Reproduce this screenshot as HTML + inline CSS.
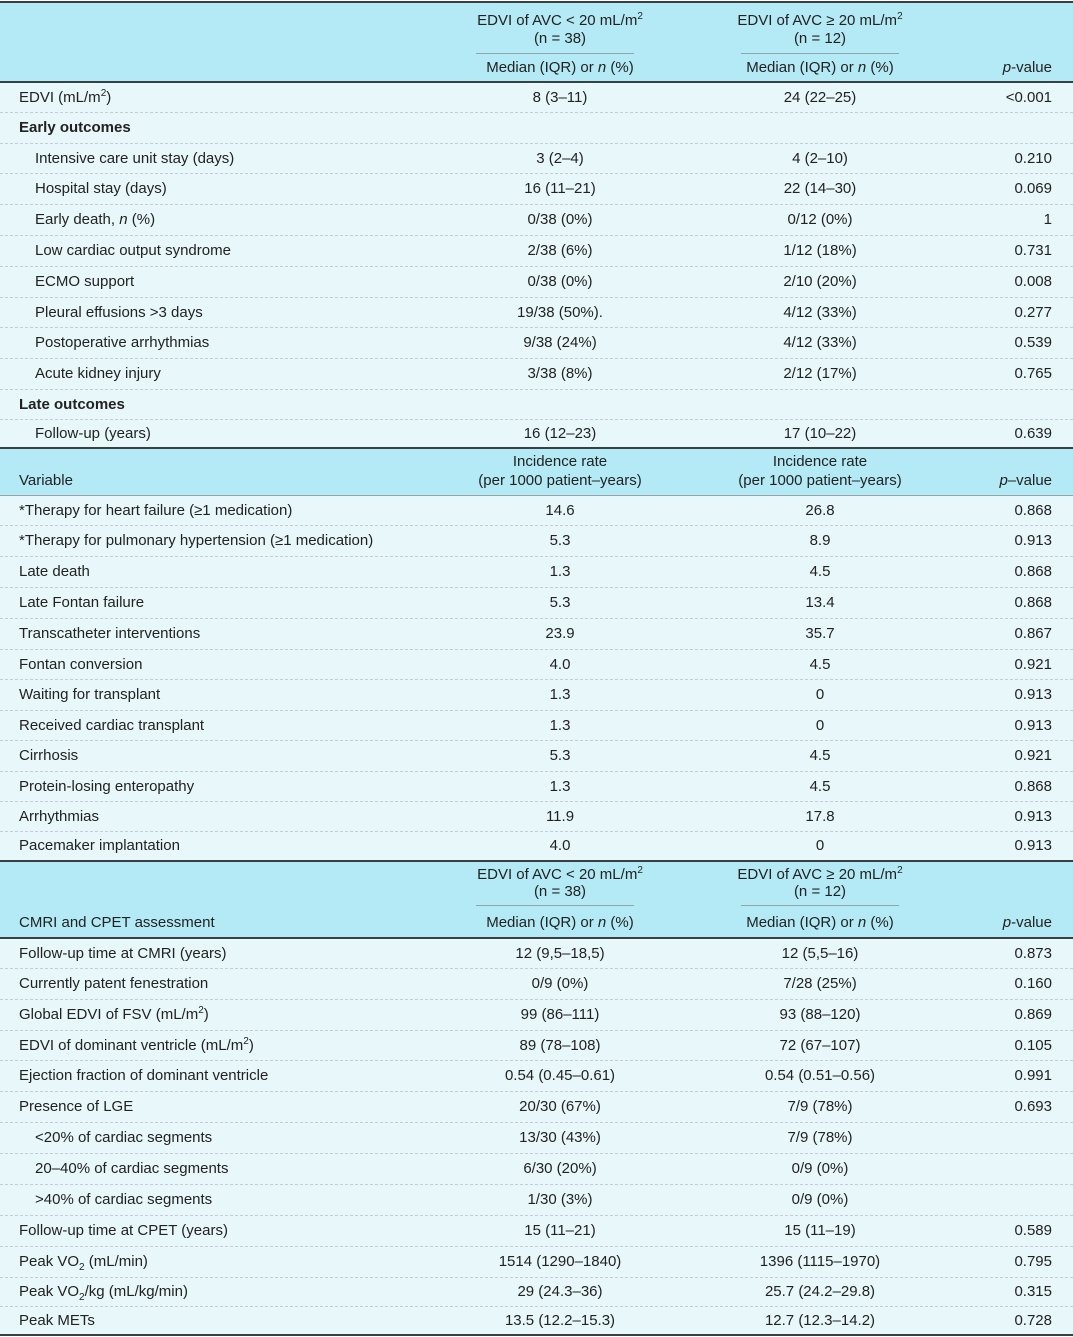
<!DOCTYPE html>
<html><head><meta charset="utf-8">
<style>
html,body{margin:0;padding:0;background:#fff}
body{width:1073px;height:1337px;position:relative;overflow:hidden;font-family:"Liberation Sans","DejaVu Sans",sans-serif;font-size:15px;color:#222}
.hdr{position:absolute;left:0;width:1073px;background:#b4eaf5}
.body{position:absolute;left:0;width:1073px;background:#e8f7fa}
.dark{position:absolute;left:0;width:1073px;height:2px;background:#3a3f42}
.grey{position:absolute;left:0;width:1073px;height:1px;background:#9aa3a6}
.thin{position:absolute;height:1px;background:#8fa5aa}
.t{position:absolute;white-space:nowrap;line-height:16px}
.c1{left:430px;width:260px;text-align:center}
.c2{left:690px;width:260px;text-align:center}
.p{right:21px;text-align:right}
.row{position:absolute;left:0;width:1073px;border-bottom:1px dashed #c4cdd0;box-sizing:border-box}
.row .t{top:50%;margin-top:-8px}
.lab{left:19px}.ind{left:35px}
sup,sub{font-size:10px;line-height:0}
</style></head>
<body>
<div class="dark" style="top:1px"></div>
<div class="hdr" style="top:3px;height:78px">
 <div class="t c1" style="top:10px">EDVI of AVC &lt; 20 mL/m<sup>2</sup></div>
 <div class="t c1" style="top:28px">(n = 38)</div>
 <div class="thin" style="left:476px;width:158px;top:50px"></div>
 <div class="t c1" style="top:57px">Median (IQR) or <i>n</i> (%)</div>
 <div class="t c2" style="top:10px">EDVI of AVC ≥ 20 mL/m<sup>2</sup></div>
 <div class="t c2" style="top:28px">(n = 12)</div>
 <div class="thin" style="left:741px;width:158px;top:50px"></div>
 <div class="t c2" style="top:57px">Median (IQR) or <i>n</i> (%)</div>
 <div class="t p" style="top:57px"><i>p</i>-value</div>
</div>
<div class="dark" style="top:81px"></div>
<div class="body" style="top:83px;height:364px" id="s1"></div>

<div class="dark" style="top:447px"></div>
<div class="hdr" style="top:449px;height:46px">
 <div class="t lab" style="top:24px">Variable</div>
 <div class="t c1" style="top:5px">Incidence rate</div>
 <div class="t c1" style="top:24px">(per 1000 patient–years)</div>
 <div class="t c2" style="top:5px">Incidence rate</div>
 <div class="t c2" style="top:24px">(per 1000 patient–years)</div>
 <div class="t p" style="top:24px"><i>p</i>–value</div>
</div>
<div class="grey" style="top:495px"></div>
<div class="body" style="top:496px;height:365px" id="s2"></div>

<div class="dark" style="top:860px"></div>
<div class="hdr" style="top:862px;height:75px">
 <div class="t c1" style="top:5px">EDVI of AVC &lt; 20 mL/m<sup>2</sup></div>
 <div class="t c1" style="top:22px">(n = 38)</div>
 <div class="thin" style="left:476px;width:158px;top:43px"></div>
 <div class="t c1" style="top:53px">Median (IQR) or <i>n</i> (%)</div>
 <div class="t c2" style="top:5px">EDVI of AVC ≥ 20 mL/m<sup>2</sup></div>
 <div class="t c2" style="top:22px">(n = 12)</div>
 <div class="thin" style="left:741px;width:158px;top:43px"></div>
 <div class="t c2" style="top:53px">Median (IQR) or <i>n</i> (%)</div>
 <div class="t lab" style="top:53px">CMRI and CPET assessment</div>
 <div class="t p" style="top:53px"><i>p</i>-value</div>
</div>
<div class="dark" style="top:937px"></div>
<div class="body" style="top:939px;height:395px" id="s3"></div>
<div class="dark" style="top:1334px"></div>

<script>
// [label, col1, col2, p, indent]
const s1Rows=[
["EDVI (mL/m<sup>2</sup>)","8 (3–11)","24 (22–25)","&lt;0.001",0],
["<b>Early outcomes</b>","","","",0],
["Intensive care unit stay (days)","3 (2–4)","4 (2–10)","0.210",1],
["Hospital stay (days)","16 (11–21)","22 (14–30)","0.069",1],
["Early death, <i>n</i> (%)","0/38 (0%)","0/12 (0%)","1",1],
["Low cardiac output syndrome","2/38 (6%)","1/12 (18%)","0.731",1],
["ECMO support","0/38 (0%)","2/10 (20%)","0.008",1],
["Pleural effusions &gt;3 days","19/38 (50%).","4/12 (33%)","0.277",1],
["Postoperative arrhythmias","9/38 (24%)","4/12 (33%)","0.539",1],
["Acute kidney injury","3/38 (8%)","2/12 (17%)","0.765",1],
["<b>Late outcomes</b>","","","",0],
["Follow-up (years)","16 (12–23)","17 (10–22)","0.639",1]];
const s1Bounds=[83,113,144,174,205,236,267,298,328,359,390,420,447];
const s2Rows=[
["*Therapy for heart failure (≥1 medication)","14.6","26.8","0.868",0],
["*Therapy for pulmonary hypertension (≥1 medication)","5.3","8.9","0.913",0],
["Late death","1.3","4.5","0.868",0],
["Late Fontan failure","5.3","13.4","0.868",0],
["Transcatheter interventions","23.9","35.7","0.867",0],
["Fontan conversion","4.0","4.5","0.921",0],
["Waiting for transplant","1.3","0","0.913",0],
["Received cardiac transplant","1.3","0","0.913",0],
["Cirrhosis","5.3","4.5","0.921",0],
["Protein-losing enteropathy","1.3","4.5","0.868",0],
["Arrhythmias","11.9","17.8","0.913",0],
["Pacemaker implantation","4.0","0","0.913",0]];
const s2Bounds=[496,526,557,588,619,650,680,711,741,772,802,832,860];
const s3Rows=[
["Follow-up time at CMRI (years)","12 (9,5–18,5)","12 (5,5–16)","0.873",0],
["Currently patent fenestration","0/9 (0%)","7/28 (25%)","0.160",0],
["Global EDVI of FSV (mL/m<sup>2</sup>)","99 (86–111)","93 (88–120)","0.869",0],
["EDVI of dominant ventricle (mL/m<sup>2</sup>)","89 (78–108)","72 (67–107)","0.105",0],
["Ejection fraction of dominant ventricle","0.54 (0.45–0.61)","0.54 (0.51–0.56)","0.991",0],
["Presence of LGE","20/30 (67%)","7/9 (78%)","0.693",0],
["&lt;20% of cardiac segments","13/30 (43%)","7/9 (78%)","",1],
["20–40% of cardiac segments","6/30 (20%)","0/9 (0%)","",1],
["&gt;40% of cardiac segments","1/30 (3%)","0/9 (0%)","",1],
["Follow-up time at CPET (years)","15 (11–21)","15 (11–19)","0.589",0],
["Peak VO<sub>2</sub> (mL/min)","1514 (1290–1840)","1396 (1115–1970)","0.795",0],
["Peak VO<sub>2</sub>/kg (mL/kg/min)","29 (24.3–36)","25.7 (24.2–29.8)","0.315",0],
["Peak METs","13.5 (12.2–15.3)","12.7 (12.3–14.2)","0.728",0]];
const s3Bounds=[939,969,1000,1031,1061,1092,1123,1154,1185,1216,1247,1278,1307,1334];

function build(id,rows,bounds,prefix){
  const host=document.getElementById(id);
  const base=bounds[0];
  rows.forEach((r,i)=>{
    const row=document.createElement('div');
    row.className='row';
    
    
    row.style.top=(bounds[i]-base)+'px';
    row.style.height=(bounds[i+1]-bounds[i])+'px';
    if(i===rows.length-1) row.style.borderBottom='none';
    const cells=[[r[4]?'t ind':'t lab',r[0],'row-label'],['t c1',r[1],'group1-value'],['t c2',r[2],'group2-value'],['t p',r[3],'p-value']];
    cells.forEach(c=>{
      const d=document.createElement('div');
      d.className=c[0];
      
      
      d.innerHTML=c[1];
      row.appendChild(d);
    });
    host.appendChild(row);
  });
}
build('s1',s1Rows,s1Bounds,'early');
build('s2',s2Rows,s2Bounds,'incidence');
build('s3',s3Rows,s3Bounds,'cmri');
</script>
</body></html>
